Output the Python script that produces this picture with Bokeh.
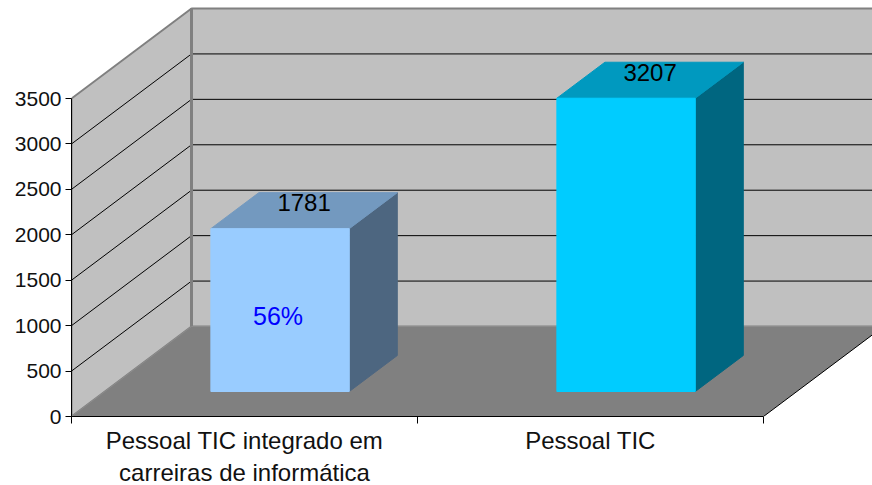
from bokeh.plotting import figure
from bokeh.models import Range1d, FixedTicker
from bokeh.core.properties import value
from bokeh.embed import file_html
from bokeh.resources import INLINE

categories = ["Pessoal TIC integrado em\ncarreiras de informática", "Pessoal TIC"]
values = [1781, 3207]
bar_fronts = ["#99CCFF", "#00CCFF"]
bar_tops = ["#7399BF", "#0099BF"]
bar_sides = ["#4D6680", "#006680"]
y_ticks = [0, 500, 1000, 1500, 2000, 2500, 3000, 3500]
inner_label = "56%"

FONT = "Liberation Sans"
WIDTH, HEIGHT = 872, 485
LEFT, BOTTOM = 71, 69
PX_PER_CAT = 346.0
PX_PER_VAL = 318.0 / 3500.0
DEPTH_X = 120.0 / PX_PER_CAT
DEPTH_V = 90.0 / PX_PER_VAL
x_end = (WIDTH - LEFT) / PX_PER_CAT
y_end = (HEIGHT - BOTTOM) / PX_PER_VAL
VMAX = y_ticks[-1]

BAR_START = 0.3065
BAR_W = 0.4
BAR_D0 = 25.0 / 90.0
BAR_DD = 36.0 / 90.0
BAR_SCALE = 1.0065


def proj(c, v, d):
    return c + d * DEPTH_X, v + d * DEPTH_V


def poly(points):
    xy = [proj(*pt) for pt in points]
    return [a for a, _ in xy], [b for _, b in xy]


p = figure(width=WIDTH, height=HEIGHT, frame_width=WIDTH - LEFT, frame_height=HEIGHT - BOTTOM,
           output_backend="svg", toolbar_location=None,
           x_range=Range1d(0, x_end), y_range=Range1d(0, y_end),
           min_border_left=LEFT, min_border_bottom=BOTTOM, min_border_top=0, min_border_right=0,
           outline_line_color=None, background_fill_color="white", border_fill_color="white",
           styles={"position": "absolute", "left": "0px", "top": "0px"})
p.grid.visible = False

# walls
xs, ys = poly([(0, 0, 0), (0, VMAX, 0), (0, VMAX, 1), (0, 0, 1)])
p.patch(xs, ys, fill_color="#C0C0C0", line_color="#808080", line_width=2)
right_c = x_end + 0.1
xs, ys = poly([(0, 0, 1), (0, VMAX, 1), (right_c, VMAX, 1), (right_c, 0, 1)])
p.patch(xs, ys, fill_color="#C0C0C0", line_color="#808080", line_width=2)

# gridlines
for t in y_ticks[1:-1]:
    xs, ys = poly([(0, t, 0), (0, t, 1), (right_c, t, 1)])
    p.line(xs, ys, line_color="black", line_width=1)
xs, ys = poly([(0, 0, 1), (0, VMAX, 1)])
p.line(xs, ys, line_color="#808080", line_width=3)

# floor
xs, ys = poly([(0, 0, 0), (2, 0, 0), (2, 0, 1), (0, 0, 1)])
p.patch(xs, ys, fill_color="#808080", line_color=None)
p.line(xs[1:3], ys[1:3], line_color="black", line_width=1)
xs, ys = poly([(0, 0, 1), (right_c, 0, 1)])
p.line(xs, ys, line_color="#8C8C8C", line_width=1)
xs, ys = poly([(0, 0, 0), (0, 0, 1)])
p.line(xs, ys, line_color="#8C8C8C", line_width=1)

# bars
for i, val in enumerate(values):
    c0 = i + BAR_START
    c1 = c0 + BAR_W
    d0, d1 = BAR_D0, BAR_D0 + BAR_DD
    h = val * BAR_SCALE
    xs, ys = poly([(c1, 0, d0), (c1, 0, d1), (c1, h, d1), (c1, h, d0)])
    p.patch(xs, ys, fill_color=bar_sides[i], line_color=bar_sides[i], line_width=1)
    xs, ys = poly([(c0, h, d0), (c1, h, d0), (c1, h, d1), (c0, h, d1)])
    p.patch(xs, ys, fill_color=bar_tops[i], line_color=bar_tops[i], line_width=1)
    xs, ys = poly([(c0, 0, d0), (c1, 0, d0), (c1, h, d0), (c0, h, d0)])
    p.patch(xs, ys, fill_color=bar_fronts[i], line_color=bar_fronts[i], line_width=1)
    tx, ty = proj((c0 + c1) / 2, h, d0 + BAR_DD / 2)
    p.text([tx], [ty], text=[str(val)], text_font=value(FONT), text_font_size="24px",
           text_color="black", text_align="center", text_baseline="alphabetic",
           y_offset=-8)

tx, ty = proj(BAR_START + BAR_W / 2, values[0] * 0.46, BAR_D0)
p.text([tx], [ty], text=[inner_label], text_font=value(FONT), text_font_size="25px",
       text_color="#0000FF", text_align="center", text_baseline="middle", x_offset=-2, y_offset=-1)

# axes
ya = p.yaxis[0]
ya.ticker = FixedTicker(ticks=y_ticks)
ya.bounds = (0, VMAX)
ya.axis_line_color = "black"
ya.major_tick_line_color = "black"
ya.major_tick_out = 6
ya.major_tick_in = 0
ya.minor_tick_line_color = None
ya.major_label_standoff = 4
ya.major_label_text_font = FONT
ya.major_label_text_font_size = "21px"
ya.major_label_text_color = "#111111"

xa = p.xaxis[0]
centers = [i + 0.5 for i in range(len(categories))]
xa.ticker = FixedTicker(ticks=centers, minor_ticks=list(range(len(categories) + 1)))
xa.major_label_overrides = dict(zip(centers, categories))
xa.bounds = (0, len(categories))
xa.axis_line_color = "black"
xa.major_tick_line_color = None
xa.major_tick_out = 0
xa.minor_tick_line_color = "black"
xa.minor_tick_out = 7
xa.minor_tick_in = 0
xa.major_label_standoff = 3
xa.major_label_text_font = FONT
xa.major_label_text_font_size = "24px"
xa.major_label_text_color = "#111111"
xa.major_label_text_line_height = 1.22

open("out.html", "w").write(file_html(p, INLINE))
